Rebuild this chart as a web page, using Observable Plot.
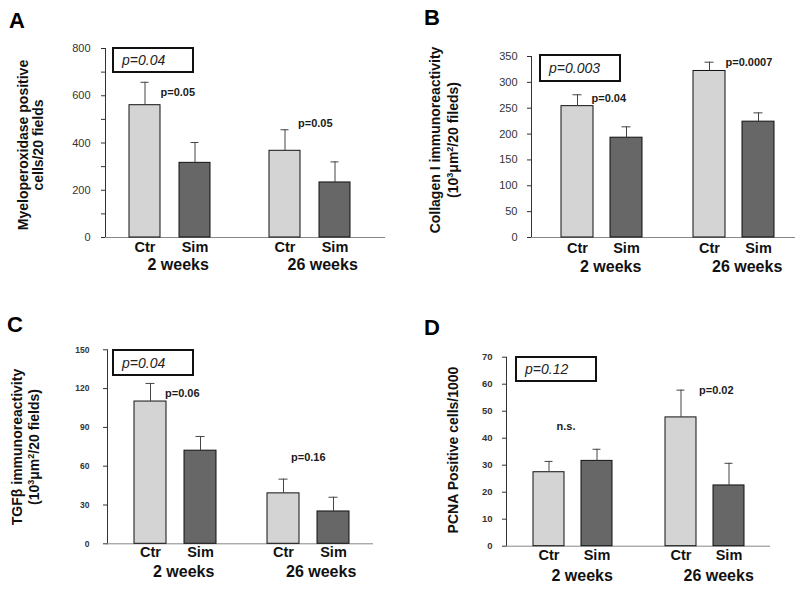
<!DOCTYPE html>
<html><head><meta charset="utf-8">
<script src="https://cdn.jsdelivr.net/npm/d3@7"></script>
<script src="https://cdn.jsdelivr.net/npm/@observablehq/plot@0.6"></script>
<style>
body{margin:0;background:#fff;font-family:"Liberation Sans",Arial,sans-serif;}
#fig{position:relative;width:800px;height:597px;overflow:hidden;background:#fff;}
.panel{position:absolute;}
.panel svg{position:absolute;left:0;top:0;overflow:visible;}
.letter{position:absolute;font-weight:bold;font-size:22px;line-height:1;color:#000;}
.ylab{position:absolute;font-weight:bold;font-size:14px;text-align:center;white-space:nowrap;color:#111;transform:translate(-50%,-50%) rotate(-90deg);}
.ylab sup{font-size:9px;vertical-align:5px;line-height:0;}
.pbox{position:absolute;border:2px solid #111;box-sizing:border-box;font-style:italic;font-size:14px;color:#222;display:flex;align-items:center;padding-left:8px;background:#fff;}
.panel svg [aria-label="y-axis tick"]{stroke:#888;}
.panel svg [aria-label="frame"]{stroke:#888;}
</style></head><body><div id="fig"></div><script>
// ---------- data ----------
const groups = ["2 weeks", "26 weeks"];
const treatments = ["Ctr", "Sim"];
// order of values: Ctr 2 weeks, Sim 2 weeks, Ctr 26 weeks, Sim 26 weeks
const mpoMean = [560, 316, 367, 233];
const mpoErr  = [97, 86, 89, 87];
const colMean = [254, 193, 322, 224];
const colErr  = [22, 21, 17, 17];
const tgfMean = [110, 72, 39, 25];
const tgfErr  = [14, 11, 11, 11];
const pcnaMean = [27.4, 31.6, 47.7, 22.5];
const pcnaErr  = [4.0, 4.3, 10.1, 8.2];

const mpoTicks = [0, 100, 200, 300, 400, 500, 600, 700, 800];
const mpoTickLabels = ["0", "", "200", "", "400", "", "600", "", "800"];
const colTicks = [0, 50, 100, 150, 200, 250, 300, 350];
const tgfTicks = [0, 30, 60, 90, 120, 150];
const pcnaTicks = [0, 10, 20, 30, 40, 50, 60, 70];

const panelLetters = ["A", "B", "C", "D"];
const overallP = ["p=0.04", "p=0.003", "p=0.04", "p=0.12"];
const mpoPairP = ["p=0.05", "p=0.05"];
const colPairP = ["p=0.04", "p=0.0007"];
const tgfPairP = ["p=0.06", "p=0.16"];
const pcnaPairP = ["n.s.", "p=0.02"];
const yLabels = [
  ["Myeloperoxidase positive", "cells/20 fields"],
  ["Collagen I immunoreactivity", "(10<sup>3</sup>μm<sup>2</sup>/20 fileds)"],
  ["TGFβ immunoreactivity", "(10<sup>3</sup>μm<sup>2</sup>/20 fields)"],
  ["PCNA Positive cells/1000"]
];

// ---------- styles / layout ----------
const FONT = "'Liberation Sans', Arial, sans-serif";
const LIGHT = "#d4d4d4", DARK = "#676767";

const panels = [
  {mean: mpoMean, err: mpoErr, ticks: mpoTicks, fmt: (d, i) => mpoTickLabels[i], pair: mpoPairP,
   left: 0, top: 0, w: 400, h: 300, mL: 105, mR: 15, mT: 48, mB: 63,
   band: [0.38, 0.59, 0.41], tickPad: 11, tickFont: 11, tickWeight: "normal",
   pLayout: [{dx: 15.5, dy: 10}, {dx: 13, dy: -6}], trDy: 14, wkDy: 32,
   box: [112, 47, 82, 26], letter: [9, 10], ylab: [31, 145, 15]},
  {mean: colMean, err: colErr, ticks: colTicks, fmt: d => d, pair: colPairP,
   left: 400, top: 0, w: 400, h: 300, mL: 130, mR: 5, mT: 56, mB: 63,
   band: [0.354, 0.515, 0.59], tickPad: 10, tickFont: 11, tickWeight: "normal",
   pLayout: [{dx: 14, dy: 4}, {dx: 16, dy: 0}], trDy: 15.5, wkDy: 34,
   box: [139, 54, 82, 28], letter: [24, 7], ylab: [44, 140, 18]},
  {mean: tgfMean, err: tgfErr, ticks: tgfTicks, fmt: d => d, pair: tgfPairP,
   left: 0, top: 300, w: 400, h: 297, mL: 106, mR: 27, mT: 49.3, mB: 53.7,
   band: [0.366, 0.505, 0.53], tickPad: 14, tickFont: 8.5, tickWeight: "bold",
   pLayout: [{dx: 14.5, dy: 10}, {dx: 7.5, dy: -21.6}], trDy: 13.4, wkDy: 33.4,
   box: [112, 49, 82, 27], letter: [7, 14], ylab: [25.5, 147, 17]},
  {mean: pcnaMean, err: pcnaErr, ticks: pcnaTicks, fmt: d => d, pair: pcnaPairP,
   left: 400, top: 300, w: 400, h: 297, mL: 106, mR: 30, mT: 56.7, mB: 51.3,
   band: [0.35, 0.536, 0.52], tickPad: 10, tickFont: 9.5, tickWeight: "bold",
   pLayout: [{dx: 7.5, dy: -35}, {dx: 18, dy: 0}], trDy: 13.8, wkDy: 34.3,
   box: [115, 56, 82, 26], letter: [24, 17], ylab: [53, 150, 16]}
];

const fig = document.getElementById("fig");

panels.forEach((cfg, p) => {
  const rows = [];
  groups.forEach((g, gi) => treatments.forEach((t, ti) => {
    const i = gi * treatments.length + ti;
    rows.push({group: g, treatment: t, mean: cfg.mean[i], err: cfg.err[i]});
  }));
  const ctrRows = rows.filter(d => d.treatment === treatments[0]);
  const pMarks = ctrRows.map((d, i) => Plot.text([{...d, label: cfg.pair[i]}], {
    fx: "group", x: "treatment", y: r => r.mean + r.err, text: "label",
    textAnchor: "start", dx: cfg.pLayout[i].dx, dy: cfg.pLayout[i].dy,
    fontSize: 11, fontWeight: "bold", fill: "#1a1a1a"
  }));

  const svg = Plot.plot({
    width: cfg.w, height: cfg.h,
    marginLeft: cfg.mL, marginRight: cfg.mR, marginTop: cfg.mT, marginBottom: cfg.mB,
    style: {fontFamily: FONT, fontSize: cfg.tickFont + "px", fontWeight: cfg.tickWeight, color: "#333", background: "transparent", overflow: "visible"},
    fx: {domain: groups, padding: 0, axis: null, label: null},
    x: {domain: treatments, paddingInner: cfg.band[0], paddingOuter: cfg.band[1], align: cfg.band[2], axis: null, label: null},
    y: {domain: [0, cfg.ticks[cfg.ticks.length - 1]], ticks: cfg.ticks, tickFormat: cfg.fmt, tickSize: 4, tickPadding: cfg.tickPad, line: true, label: null, axis: "left"},
    color: {domain: treatments, range: [LIGHT, DARK]},
    marks: [
      Plot.ruleY([0], {stroke: "#888"}),
      Plot.barY(rows, {fx: "group", x: "treatment", y: "mean", fill: "treatment", stroke: "#111", strokeWidth: 1}),
      Plot.ruleX(rows, {fx: "group", x: "treatment", y1: "mean", y2: d => d.mean + d.err, stroke: "#444"}),
      Plot.tickY(rows, {fx: "group", x: "treatment", y: d => d.mean + d.err, stroke: "#444", insetLeft: 11.5, insetRight: 11.5}),
      Plot.text(rows, {fx: "group", x: "treatment", text: "treatment", frameAnchor: "bottom", dy: cfg.trDy, fontSize: 14.5, fontWeight: "bold", fill: "#111"}),
      Plot.text(groups, {fx: d => d, x: () => treatments[0], text: d => d, frameAnchor: "bottom", textAnchor: "start", dx: 2.5, dy: cfg.wkDy, fontSize: 16, fontWeight: "bold", fill: "#111"}),
      ...pMarks
    ]
  });

  const div = document.createElement("div");
  div.className = "panel";
  Object.assign(div.style, {left: cfg.left + "px", top: cfg.top + "px", width: cfg.w + "px", height: cfg.h + "px"});
  div.appendChild(svg);

  const letter = document.createElement("div");
  letter.className = "letter";
  letter.textContent = panelLetters[p];
  Object.assign(letter.style, {left: cfg.letter[0] + "px", top: cfg.letter[1] + "px"});
  div.appendChild(letter);

  const yl = document.createElement("div");
  yl.className = "ylab";
  yl.innerHTML = yLabels[p].join("<br>");
  Object.assign(yl.style, {left: cfg.ylab[0] + "px", top: cfg.ylab[1] + "px", lineHeight: cfg.ylab[2] + "px"});
  div.appendChild(yl);

  const box = document.createElement("div");
  box.className = "pbox";
  box.textContent = overallP[p];
  Object.assign(box.style, {left: cfg.box[0] + "px", top: cfg.box[1] + "px", width: cfg.box[2] + "px", height: cfg.box[3] + "px"});
  div.appendChild(box);

  fig.appendChild(div);
});
</script></body></html>
